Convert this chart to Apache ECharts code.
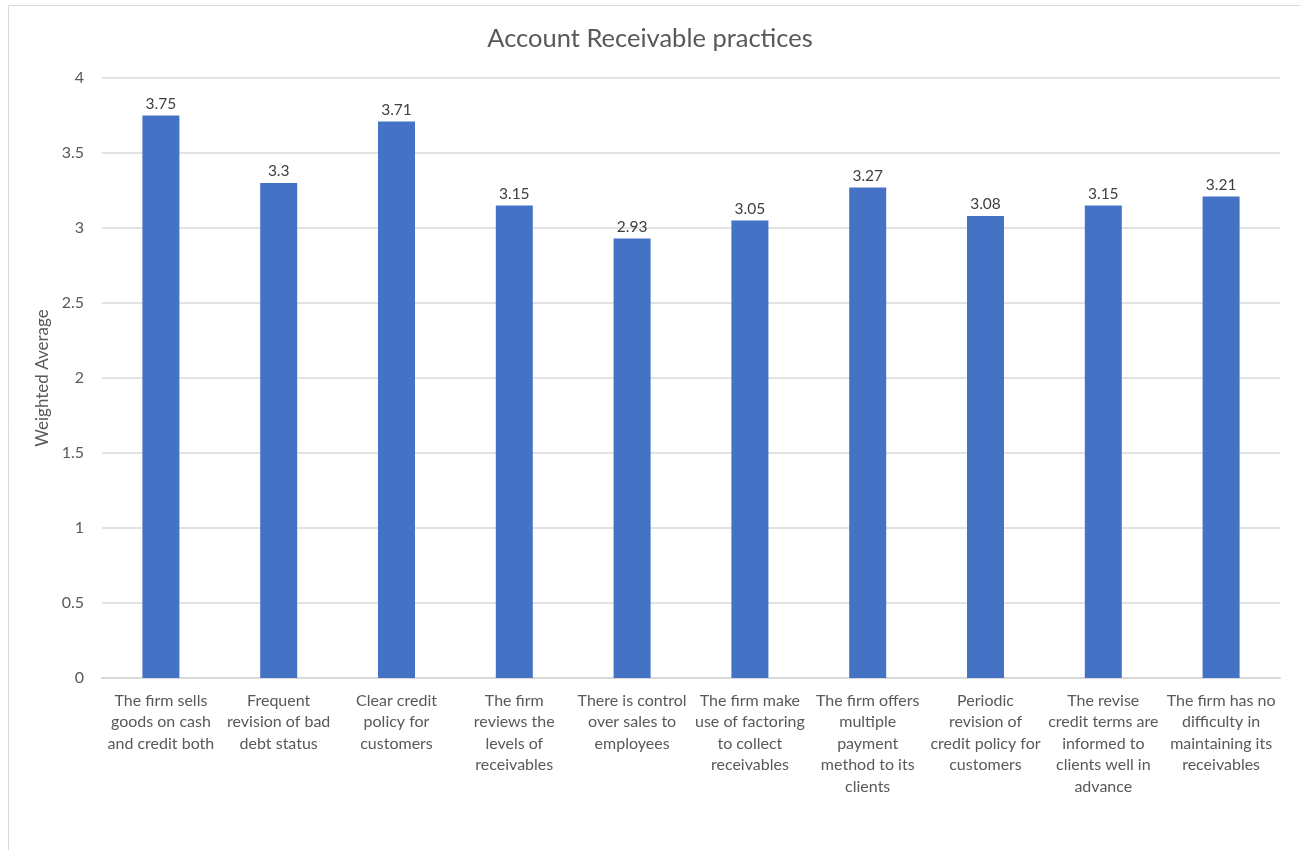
<!DOCTYPE html>
<html><head><meta charset="utf-8">
<script src="https://cdn.jsdelivr.net/npm/echarts@6/dist/echarts.min.js"></script>
<style>html,body{margin:0;padding:0;background:#fff}#c{width:1300px;height:850px}</style>
</head><body><div id="c"></div>
<script>
const categories = [
  "The firm sells\ngoods on cash\nand credit both",
  "Frequent\nrevision of bad\ndebt status",
  "Clear credit\npolicy for\ncustomers",
  "The firm\nreviews the\nlevels of\nreceivables",
  "There is control\nover sales to\nemployees",
  "The firm make\nuse of factoring\nto collect\nreceivables",
  "The firm offers\nmultiple\npayment\nmethod to its\nclients",
  "Periodic\nrevision of\ncredit policy for\ncustomers",
  "The revise\ncredit terms are\ninformed to\nclients well in\nadvance",
  "The firm has no\ndifficulty in\nmaintaining its\nreceivables"
];
const values = [3.75, 3.3, 3.71, 3.15, 2.93, 3.05, 3.27, 3.08, 3.15, 3.21];
const titleText = "Account Receivable practices";
const yName = "Weighted Average";

const chart = echarts.init(document.getElementById('c'), null, {renderer:'canvas'});
const font = 'Lato, "Open Sans", sans-serif';
chart.setOption({
  animation:false,
  backgroundColor:'#fff',
  graphic:[{type:'rect', shape:{x:8.5,y:5.5,width:1300,height:850}, style:{fill:'none', stroke:'#d9d9d9', lineWidth:1}, silent:true}],
  title:{text:titleText, left:'center', top:21, textStyle:{fontFamily:font, fontSize:25.5, fontWeight:'normal', color:'#595959'}},
  grid:{left:102, right:20, top:78, bottom:172, containLabel:false},
  xAxis:{type:'category', data:categories,
    axisLine:{lineStyle:{color:'#d9d9d9', width:2}}, axisTick:{show:false},
    axisLabel:{interval:0, color:'#595959', fontFamily:font, fontSize:16, lineHeight:21.5, margin:12}},
  yAxis:{type:'value', min:0, max:4, interval:0.5, name:yName, nameLocation:'middle', nameGap:46,
    nameTextStyle:{fontFamily:font, fontSize:17, color:'#595959'},
    axisLine:{show:false}, axisTick:{show:false},
    splitLine:{lineStyle:{color:'#d9d9d9', width:1.5}},
    axisLabel:{color:'#595959', fontFamily:font, fontSize:16, margin:18}},
  series:[{type:'bar', data:values, barWidth:37, itemStyle:{color:'#4472C4'},
    label:{show:true, position:'top', distance:4, color:'#404040', fontFamily:font, fontSize:15.5}}]
});
</script></body></html>
